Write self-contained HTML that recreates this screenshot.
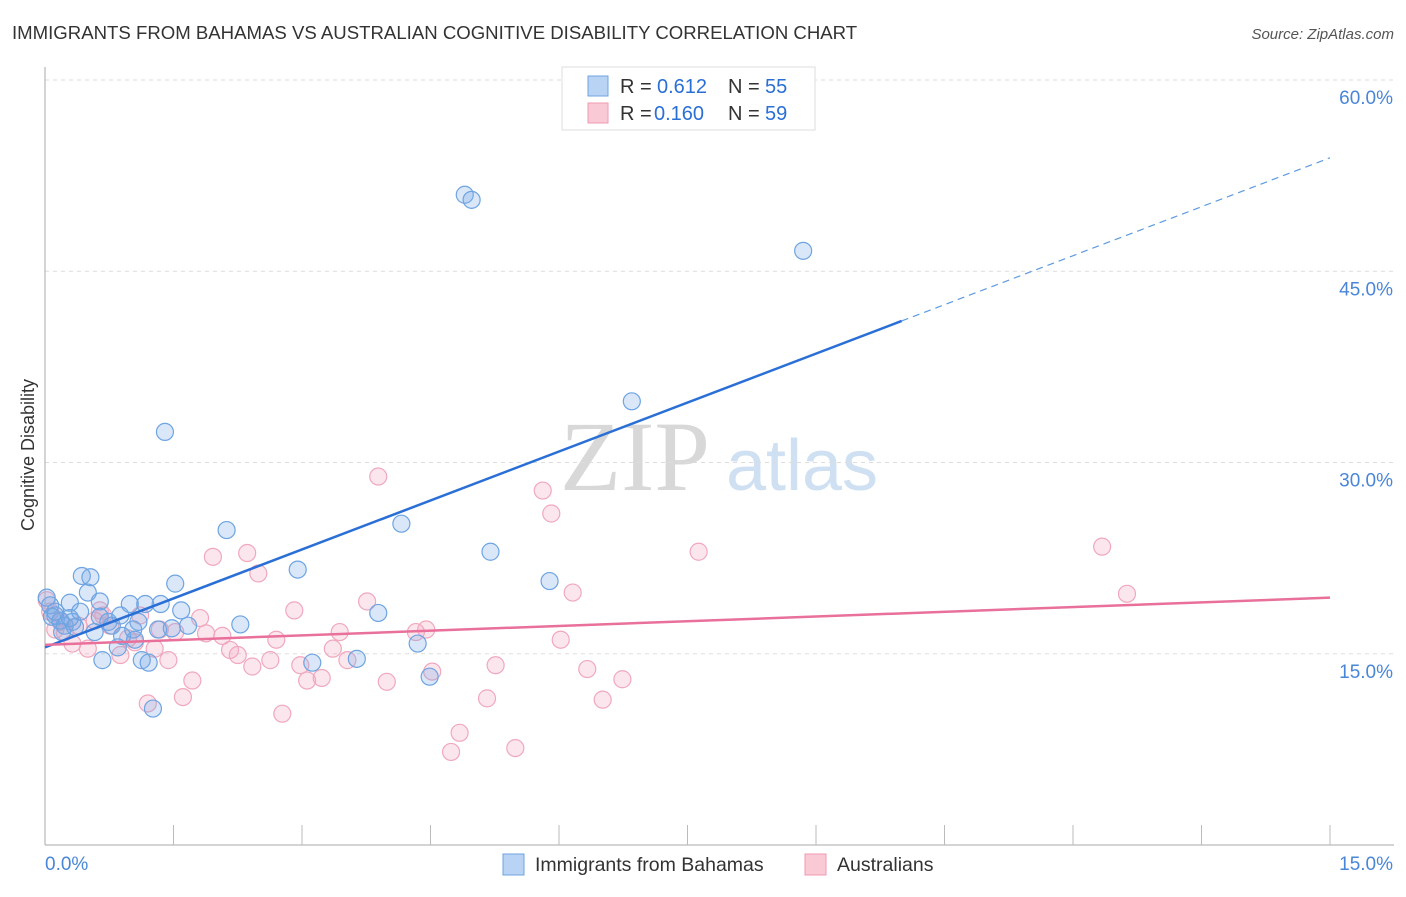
<!DOCTYPE html>
<html><head><meta charset="utf-8"><style>
body{margin:0;background:#fff;font-family:"Liberation Sans",sans-serif;}
svg text{font-family:"Liberation Sans",sans-serif;}
</style></head><body>
<svg width="1406" height="892" id="chart">
<text x="12" y="39" font-size="18.6" fill="#333">IMMIGRANTS FROM BAHAMAS VS AUSTRALIAN COGNITIVE DISABILITY CORRELATION CHART</text>
<text x="1394" y="39" font-size="15" fill="#555" text-anchor="end" font-style="italic">Source: ZipAtlas.com</text>
<text x="635" y="490" font-size="100" fill="#d8d8d8" style="font-family:'Liberation Serif',serif" text-anchor="middle">ZIP</text>
<text x="802" y="490" font-size="72" fill="#cfe0f3" text-anchor="middle">atlas</text>
<g id="grid"></g><g id="axes"></g><g id="pts"></g><g id="lines"></g>
<text x="34" y="455" font-size="18" fill="#333" text-anchor="middle" transform="rotate(-90 34 455)">Cognitive Disability</text>
<g>
<rect x="562" y="67" width="253" height="63" fill="#fff" stroke="#ddd"/>
<rect x="588" y="76" width="20" height="20" fill="#b8d3f3" stroke="#6fa3e0"/>
<rect x="588" y="103" width="20" height="20" fill="#f9c9d6" stroke="#ee9ab2"/>
<text x="620" y="93" font-size="20" fill="#333">R =</text>
<text x="657" y="93" font-size="20" fill="#2a6fd6">0.612</text>
<text x="728" y="93" font-size="20" fill="#333">N =</text>
<text x="765" y="93" font-size="20" fill="#2a6fd6">55</text>
<text x="620" y="120" font-size="20" fill="#333">R =</text>
<text x="654" y="120" font-size="20" fill="#2a6fd6">0.160</text>
<text x="728" y="120" font-size="20" fill="#333">N =</text>
<text x="765" y="120" font-size="20" fill="#2a6fd6">59</text>
</g>
<g>
<rect x="503" y="854" width="21" height="21" fill="#b8d3f3" stroke="#6fa3e0"/>
<text x="535" y="871" font-size="19.5" fill="#333">Immigrants from Bahamas</text>
<rect x="805" y="854" width="21" height="21" fill="#f9c9d6" stroke="#ee9ab2"/>
<text x="837" y="871" font-size="19.5" fill="#333">Australians</text>
</g>
</svg>
<script>
const yTicks=[15,30,45,60];
const yTickLabels=["15.0%","30.0%","45.0%","60.0%"];
const xTickLabels=["0.0%","15.0%"];
const blueX=[0.02,0.06,0.08,0.12,0.18,0.23,0.29,0.32,0.35,0.41,0.43,0.53,0.50,0.58,0.64,0.64,0.67,0.74,0.78,0.85,0.90,0.99,1.03,1.09,1.13,1.17,1.21,1.26,1.32,1.35,1.40,1.48,1.52,1.59,1.67,2.12,2.28,2.95,3.12,3.64,3.89,4.16,4.35,4.49,4.90,4.98,5.20,5.89,6.85,8.85,0.12,0.20,0.88,1.05,0.29];
const blueY=[19.4,18.8,17.9,18.0,17.6,17.2,19.0,17.5,17.1,18.3,21.1,21.0,19.8,16.7,19.1,17.9,14.5,17.5,17.2,15.5,16.4,18.9,16.9,17.5,14.5,18.9,14.3,10.7,16.9,18.9,32.4,17.0,20.5,18.4,17.2,24.7,17.3,21.6,14.3,14.6,18.2,25.2,15.8,13.2,51.0,50.6,23.0,20.7,34.8,46.6,18.3,16.7,18.0,16.1,17.8];
const pinkX=[0.02,0.06,0.12,0.18,0.23,0.32,0.39,0.50,0.58,0.68,0.76,0.88,0.97,1.05,1.11,1.20,1.28,1.34,1.44,1.52,1.61,1.72,1.81,1.88,1.96,2.07,2.16,2.25,2.36,2.42,2.49,2.63,2.70,2.77,2.91,2.98,3.06,3.23,3.36,3.44,3.53,3.76,3.89,3.99,4.33,4.45,4.52,4.74,4.84,5.16,5.26,5.49,5.81,5.91,6.02,6.16,6.33,6.51,6.74,7.63,12.34,12.63,0.64];
const pinkY=[19.2,18.3,16.9,17.5,16.7,15.8,17.2,15.4,17.6,18.0,17.2,14.9,16.2,15.9,18.0,11.1,15.4,16.9,14.5,16.7,11.6,12.9,17.8,16.6,22.6,16.4,15.3,14.9,22.9,14.0,21.3,14.5,16.1,10.3,18.4,14.1,12.9,13.1,15.4,16.7,14.5,19.1,28.9,12.8,16.7,16.9,13.6,7.3,8.8,11.5,14.1,7.6,27.8,26.0,16.1,19.8,13.8,11.4,13.0,23.0,23.4,19.7,18.4];
const blueTrend=[15.5,53.9];
const blueSolidEnd=10.0;
const pinkTrend=[15.7,19.4];
const X0=45,X1=1330,Y0=845,Y60=80;
const sx=v=>X0+v/15*(X1-X0);
const sy=v=>Y0-v/60*(Y0-Y60);
const NS="http://www.w3.org/2000/svg";
function mk(tag,attrs,parent){const e=document.createElementNS(NS,tag);for(const k in attrs)e.setAttribute(k,attrs[k]);document.getElementById(parent).appendChild(e);return e;}
yTicks.forEach((t,i)=>{
 const g=mk('line',{x1:X0,x2:1394,y1:sy(t),y2:sy(t),stroke:'#ddd','stroke-dasharray':'4,4'},'grid');
 
 
 const l=mk('text',{x:1393,y:sy(t)+24,'font-size':19,fill:'#4a86d8','text-anchor':'end'},'axes');
 l.textContent=yTickLabels[i];
 
 
});
mk('line',{x1:X0,x2:X0,y1:67,y2:Y0,stroke:'#aaa'},'axes');
mk('line',{x1:X0,x2:1394,y1:Y0,y2:Y0,stroke:'#aaa'},'axes');
for(let i=1;i<=10;i++){mk('line',{x1:sx(i*1.5),x2:sx(i*1.5),y1:Y0-20,y2:Y0,stroke:'#bbb'},'axes');}
xTickLabels.forEach((t,i)=>{
 const l=mk('text',{x:i?1393:45,y:870,'font-size':19,fill:'#4a86d8','text-anchor':i?'end':'start'},'axes');
 l.textContent=t;
 
 
});
pinkX.forEach((x,i)=>{
 const c=mk('circle',{cx:sx(x),cy:sy(pinkY[i]),r:8.5,fill:'rgba(245,165,190,0.28)',stroke:'#f0a8bd','stroke-width':1.2},'pts');
 
 
});
blueX.forEach((x,i)=>{
 const c=mk('circle',{cx:sx(x),cy:sy(blueY[i]),r:8.5,fill:'rgba(120,170,230,0.28)',stroke:'#6ea4e2','stroke-width':1.2},'pts');
 
 
});
const bAt=x=>blueTrend[0]+(blueTrend[1]-blueTrend[0])*x/15;
const b1=mk('line',{x1:sx(0),y1:sy(bAt(0)),x2:sx(blueSolidEnd),y2:sy(bAt(blueSolidEnd)),stroke:'#2a6fd6','stroke-width':2.5},'lines');


const b2=mk('line',{x1:sx(blueSolidEnd),y1:sy(bAt(blueSolidEnd)),x2:sx(15),y2:sy(bAt(15)),stroke:'#5d9ae0','stroke-width':1.2,'stroke-dasharray':'7,5'},'lines');


const p1=mk('line',{x1:sx(0),y1:sy(pinkTrend[0]),x2:sx(15),y2:sy(pinkTrend[1]),stroke:'#e8709a','stroke-width':2.5},'lines');


</script>
</body></html>
